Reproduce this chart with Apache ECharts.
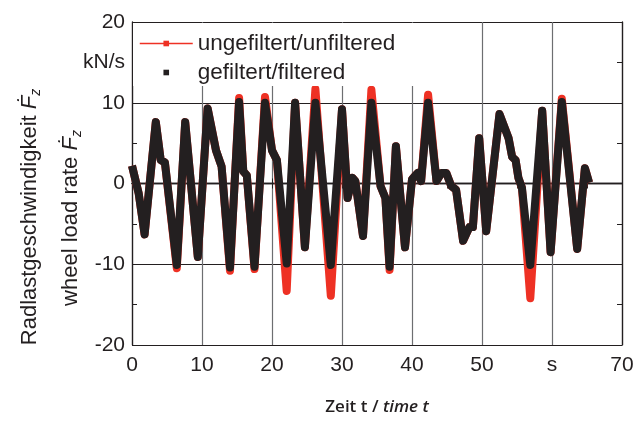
<!DOCTYPE html>
<html><head><meta charset="utf-8">
<script src="https://cdn.jsdelivr.net/npm/echarts@6/dist/echarts.min.js"></script>
<style>html,body{margin:0;padding:0;background:#fff}#c{width:641px;height:421px}</style>
</head><body><div id="c"></div>
<script>
const time = [0, 0.95, 1.8, 3.4, 4.1, 4.7, 6.4, 7.6, 9.4, 10.8, 12.0, 12.8, 14.0, 15.3, 15.9, 16.4, 17.5, 19.0, 20.0, 20.7,
  22.1, 23.3, 24.7, 26.2, 28.4, 30.0, 30.8, 31.5, 31.9, 33.0, 34.2, 35.5, 36.2, 36.8, 37.7, 39.0, 40.0, 40.4, 40.8, 41.3,
  42.3, 43.5, 44.2, 44.9, 45.6, 46.3, 47.3, 48.2, 48.7, 49.6, 50.6, 52.5, 53.8, 54.3, 54.8, 55.2, 55.7, 56.9, 58.6, 59.8,
  61.4, 63.6, 64.7, 65.3];
const filtered = [2.2, -1.2, -6.3, 7.6, 2.9, 2.6, -10.1, 7.6, -9.1, 9.3, 4.1, 2.1, -10.4, 10.1, 1.5, 1.0, -10.3, 10.0, 4.1, 2.9,
  -9.9, 10.0, -7.9, 10.0, -10.1, 9.2, -1.8, 0.7, 0.3, -6.5, 10.0, -0.3, -1.8, -10.3, 4.6, -7.9, 0.5, 0.9, 1.3, 0.3,
  10.0, 0.3, 1.3, 1.3, -0.3, -0.8, -7.1, -5.4, -5.4, 5.6, -5.9, 8.6, 5.6, 3.3, 2.9, 0.7, -0.5, -10.1, 9.0, -8.5,
  10.1, -8.1, 1.9, 0.1];
const unfiltered = [2.2, -1.2, -6.3, 7.6, 2.9, 2.6, -10.5, 7.6, -9.1, 9.3, 4.1, 2.1, -10.8, 10.6, 1.5, 1.0, -10.6, 10.7, 4.1, 2.9,
  -13.3, 10.0, -7.9, 11.7, -13.9, 9.2, -1.8, 0.7, 0.3, -6.5, 11.6, -0.3, -1.8, -10.7, 4.6, -7.9, 0.5, 0.9, 1.3, 0.3,
  11.0, 0.3, 1.3, 1.3, -0.3, -0.8, -7.1, -5.4, -5.4, 5.6, -5.9, 8.6, 5.6, 3.3, 2.9, 0.7, -0.5, -14.2, 9.0, -8.5,
  10.5, -8.1, 1.9, 0.1];
const xTickLabels = {0: '0', 10: '10', 20: '20', 30: '30', 40: '40', 50: '50', 60: 's', 70: '70'};
const yTickLabels = {'-20': '-20', '-10': '-10', '0': '0', '10': '10', '15': 'kN/s', '20': '20'};
const seriesNames = ['ungefiltert/unfiltered', 'gefiltert/filtered'];

const FONT = '"Liberation Sans", Arial, sans-serif';
const INK = '#231f20';
const RED = '#ee3124';

const chart = echarts.init(document.getElementById('c'), null, {renderer: 'canvas'});
const frameLine = {show: true, lineStyle: {color: INK, width: 1.3}};
const tickIn = {show: true, inside: true, length: 5, lineStyle: {color: INK, width: 1}};
const minorIn = {show: true, splitNumber: 2, length: 5, lineStyle: {color: INK, width: 1}};

chart.setOption({
  animation: false,
  backgroundColor: '#fff',
  grid: {left: 132, right: 19, top: 22, bottom: 73, show: false},
  legend: {
    orient: 'vertical', left: 133, top: 23, padding: [9, 20, 2, 6],
    itemWidth: 53, itemHeight: 7, itemGap: 6,
    backgroundColor: '#fff',
    lineStyle: {width: 1.5},
    textStyle: {fontFamily: FONT, fontSize: 22.5, lineHeight: 22, color: INK},
    data: [
      {name: seriesNames[0]},
      {name: seriesNames[1], lineStyle: {opacity: 0}}
    ]
  },
  xAxis: [
    {
      type: 'value', position: 'bottom', min: 0, max: 70, interval: 10,
      axisLine: frameLine, axisTick: tickIn, minorTick: minorIn,
      axisLabel: {margin: 10, fontFamily: FONT, fontSize: 21, color: INK,
        formatter: v => xTickLabels[v] !== undefined ? xTickLabels[v] : ''},
      splitLine: {show: true, lineStyle: {color: '#6d6e71', width: 1.2}},
      name: '{a|Zeit t / }{b|time t}', nameLocation: 'middle', nameGap: 54,
      nameTextStyle: {rich: {
        a: {fontFamily: '"Open Sans", sans-serif', fontWeight: 600, fontSize: 17, color: INK},
        b: {fontFamily: '"Open Sans", sans-serif', fontWeight: 600, fontStyle: 'italic', fontSize: 17, color: INK}
      }}
    },
    {
      type: 'value', position: 'top', min: 0, max: 70, interval: 10,
      axisLine: frameLine, axisTick: tickIn, minorTick: minorIn,
      axisLabel: {show: false}, splitLine: {show: false}
    }
  ],
  yAxis: [
    {
      type: 'value', position: 'left', min: -20, max: 20, interval: 5,
      axisLine: frameLine, axisTick: tickIn,
      axisLabel: {margin: 7, fontFamily: FONT, fontSize: 21, color: INK,
        formatter: v => yTickLabels[String(v)] !== undefined ? yTickLabels[String(v)] : ''},
      splitLine: {show: false}
    },
    {
      type: 'value', position: 'left', min: -20, max: 20, interval: 10,
      axisLine: {show: false}, axisTick: {show: false}, axisLabel: {show: false},
      splitLine: {show: true, lineStyle: {color: INK, width: 1.2}}
    },
    {
      type: 'value', position: 'right', min: -20, max: 20, interval: 5,
      axisLine: frameLine, axisTick: tickIn, axisLabel: {show: false}, splitLine: {show: false}
    }
  ],
  graphic: [
    {
      type: 'text', x: 30, y: 217, rotation: Math.PI / 2,
      style: {
        text: '{n|Radlastgeschwindigkeit }{f|Ḟ}{z|z}', align: 'center', verticalAlign: 'middle',
        rich: {
          n: {fontFamily: FONT, fontSize: 22, lineHeight: 26, fill: INK, verticalAlign: 'middle'},
          f: {fontFamily: FONT, fontSize: 22, fontStyle: 'italic', lineHeight: 26, fill: INK, verticalAlign: 'middle'},
          z: {fontFamily: FONT, fontSize: 14, fontStyle: 'italic', lineHeight: 14, fill: INK, verticalAlign: 'bottom'}
        }
      }
    },
    {
      type: 'text', x: 71, y: 218, rotation: Math.PI / 2,
      style: {
        text: '{n|wheel load rate }{f|Ḟ}{z|z}', align: 'center', verticalAlign: 'middle',
        rich: {
          n: {fontFamily: FONT, fontSize: 22, lineHeight: 26, fill: INK, verticalAlign: 'middle'},
          f: {fontFamily: FONT, fontSize: 22, fontStyle: 'italic', lineHeight: 26, fill: INK, verticalAlign: 'middle'},
          z: {fontFamily: FONT, fontSize: 14, fontStyle: 'italic', lineHeight: 14, fill: INK, verticalAlign: 'bottom'}
        }
      }
    }
  ],
  series: [
    {
      name: seriesNames[0], type: 'line', xAxisIndex: 0, yAxisIndex: 0,
      symbol: 'rect', showSymbol: false, z: 2,
      itemStyle: {color: RED},
      lineStyle: {color: RED, width: 8, join: 'round'},
      data: time.map((t, i) => [t, unfiltered[i]])
    },
    {
      name: seriesNames[1], type: 'line', xAxisIndex: 0, yAxisIndex: 0,
      symbol: 'rect', showSymbol: false, z: 3,
      itemStyle: {color: INK},
      lineStyle: {color: INK, width: 8, join: 'round'},
      data: time.map((t, i) => [t, filtered[i]])
    }
  ]
});
</script></body></html>
